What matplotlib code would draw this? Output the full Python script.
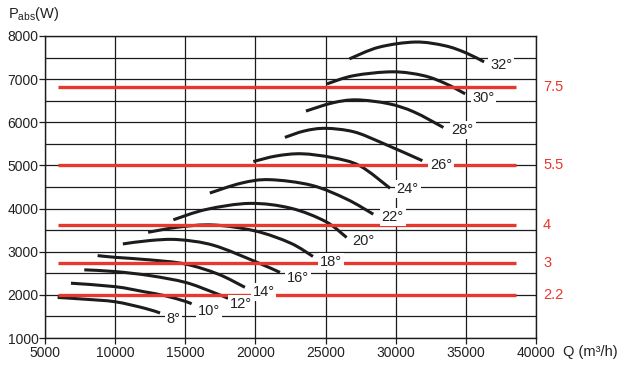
import matplotlib
matplotlib.use('Agg')
import matplotlib.pyplot as plt
from matplotlib.path import Path
from matplotlib.patches import PathPatch

plt.rcParams['font.family'] = ['Liberation Sans', 'DejaVu Sans']
plt.rcParams['mathtext.fontset'] = 'custom'
plt.rcParams['mathtext.rm'] = 'Liberation Sans'
plt.rcParams['mathtext.it'] = 'Liberation Sans:italic'

# ---------------- data ----------------
angles = ['8°', '10°', '12°', '14°', '16°', '18°', '20°', '22°', '24°', '26°', '28°', '30°', '32°']

q_8 = [5900, 7800, 10000, 12100, 13200]
p_8 = [1940, 1900, 1840, 1690, 1580]
q_10 = [6850, 10000, 12100, 13550, 15000, 15450]
p_10 = [2270, 2190, 2070, 1980, 1850, 1790]
q_12 = [7800, 10000, 12500, 15000, 16900, 18050]
p_12 = [2580, 2540, 2445, 2290, 2070, 1920]
q_14 = [8750, 10000, 12500, 15000, 17350, 19250]
p_14 = [2910, 2870, 2810, 2715, 2480, 2175]
q_16 = [10550, 12500, 14500, 17000, 20000, 21750]
p_16 = [3180, 3260, 3280, 3150, 2770, 2520]
q_18 = [12350, 14500, 17000, 20000, 22500, 24100]
p_18 = [3450, 3570, 3620, 3480, 3200, 2890]
q_20 = [14150, 16500, 19600, 22500, 25000, 26500]
p_20 = [3740, 3980, 4120, 4010, 3700, 3330]
q_22 = [16750, 19000, 21000, 24000, 26500, 28400]
p_22 = [4360, 4590, 4670, 4540, 4220, 3870]
q_24 = [19850, 21500, 23300, 25500, 27450, 29600]
p_24 = [5090, 5220, 5270, 5180, 4990, 4470]
q_26 = [22100, 23500, 25000, 27000, 28900, 31900]
p_26 = [5650, 5800, 5860, 5780, 5540, 5110]
q_28 = [23600, 25500, 27200, 29500, 31300, 33400]
p_28 = [6260, 6450, 6520, 6430, 6240, 5880]
q_30 = [25100, 27000, 29800, 32000, 33600, 34950]
p_30 = [6890, 7080, 7170, 7080, 6890, 6660]
q_32 = [26700, 28800, 31400, 33500, 35000, 36300]
p_32 = [7470, 7740, 7860, 7775, 7610, 7400]

curves_q = [q_8, q_10, q_12, q_14, q_16, q_18, q_20, q_22, q_24, q_26, q_28, q_30, q_32]
curves_p = [p_8, p_10, p_12, p_14, p_16, p_18, p_20, p_22, p_24, p_26, p_28, p_30, p_32]

label_q = [13650, 15900, 18150, 19800, 22250, 24600, 26900, 29000, 30070, 32450, 33990, 35460, 36720]
label_p = [1440, 1630, 1790, 2070, 2380, 2770, 3255, 3800, 4455, 5015, 5820, 6555, 7335]

motor_kw = ['7.5', '5.5', '4', '3', '2.2']
motor_p = [6810, 5000, 3630, 2730, 2000]
motor_q_start = 5900
motor_q_end = 38600

x_ticks = [5000, 10000, 15000, 20000, 25000, 30000, 35000, 40000]
y_ticks = [1000, 2000, 3000, 4000, 5000, 6000, 7000, 8000]
y_minor = [1500, 2500, 3500, 4500, 5500, 6500, 7500]

RED = '#e8372d'
INK = '#1c1c1c'


def smooth_path(xs, ys):
    pts = list(zip(xs, ys))
    n = len(pts)
    verts = [pts[0]]
    codes = [Path.MOVETO]
    for i in range(n - 1):
        p0 = pts[i - 1] if i > 0 else pts[i]
        p1 = pts[i]
        p2 = pts[i + 1]
        p3 = pts[i + 2] if i + 2 < n else pts[i + 1]
        c1 = (p1[0] + (p2[0] - p0[0]) / 6, p1[1] + (p2[1] - p0[1]) / 6)
        c2 = (p2[0] - (p3[0] - p1[0]) / 6, p2[1] - (p3[1] - p1[1]) / 6)
        verts += [c1, c2, p2]
        codes += [Path.CURVE4] * 3
    return Path(verts, codes)


fig = plt.figure(figsize=(6.24, 3.68), dpi=100)
ax = fig.add_axes([45 / 624, 30 / 368, 491 / 624, 302 / 368])
ax.set_xlim(5000, 40000)
ax.set_ylim(1000, 8000)

ax.set_xticks(x_ticks)
ax.set_yticks(y_ticks)
ax.set_yticks(y_minor, minor=True)
ax.tick_params(axis='both', which='major', direction='out', length=4, width=0.9,
               color=INK, labelsize=10, labelcolor='#222222')
ax.tick_params(axis='y', which='major', pad=0.5)
ax.tick_params(axis='x', which='major', pad=2)
ax.tick_params(axis='y', which='minor', length=0)
ax.grid(True, which='both', color=INK, linewidth=0.9, zorder=1)
ax.set_axisbelow(True)
for s in ax.spines.values():
    s.set_color(INK)
    s.set_linewidth(1.0)

# fan curves
for qs, ps in zip(curves_q, curves_p):
    patch = PathPatch(smooth_path(qs, ps), fill=False, edgecolor=INK,
                      linewidth=2.2, capstyle='butt', zorder=3)
    ax.add_patch(patch)

# motor power lines
for kw, p in zip(motor_kw, motor_p):
    ax.plot([motor_q_start, motor_q_end], [p, p], color=RED, linewidth=2.4,
            solid_capstyle='butt', zorder=4)
    ax.text(40500, p, kw, color=RED, fontsize=10.5, ha='left', va='center',
            clip_on=False)

# curve labels
for txt, q, p in zip(angles, label_q, label_p):
    ax.text(q, p, txt, fontsize=10.5, color='#222222', ha='left', va='center',
            zorder=5, bbox=dict(boxstyle='square,pad=0.12', fc='white', ec='none'))

fig.text(8 / 624, 1 - 14 / 368, r'P$_{\mathrm{abs}}$(W)', fontsize=10.5,
         color='#222222', ha='left', va='center')
fig.text(563 / 624, 1 - 352 / 368, 'Q (m³/h)', fontsize=10.5,
         color='#222222', ha='left', va='center')

fig.savefig('out.png', dpi=100, facecolor='white')
